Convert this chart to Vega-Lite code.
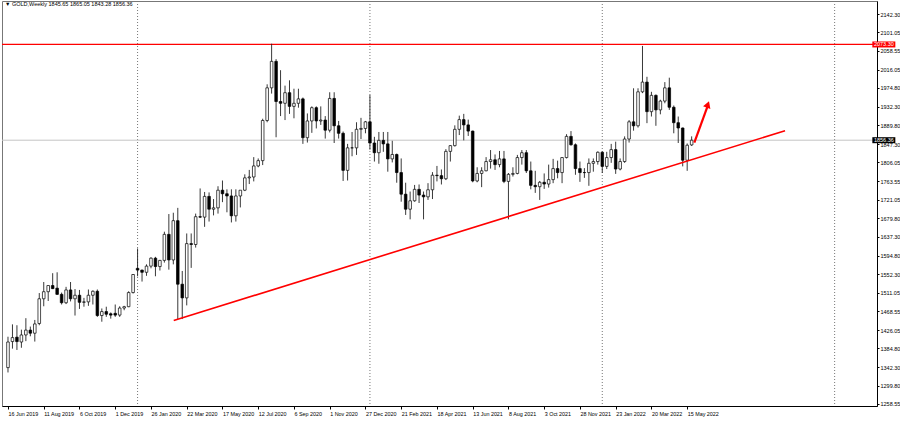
{
  "$schema": "https://vega.github.io/schema/vega-lite/v6.json",
  "width": 875,
  "height": 405,
  "autosize": {"type": "none"},
  "padding": {"left": 2, "top": 1, "right": 23, "bottom": 15},
  "background": "white",
  "config": {
    "view": {"stroke": "#777", "strokeWidth": 1},
    "axis": {"labelFont": "Liberation Sans", "labelColor": "#000", "domainColor": "#000", "tickColor": "#000", "grid": false},
    "axisX": {"format": "%-d %b %Y", "formatType": "utc", "labelAlign": "left", "labelBaseline": "top", "labelPadding": 2, "labelOffset": 0, "tickSize": 3, "labelFontSize": 5.4, "labelFlush": false, "labelOverlap": false, "labelBound": false},
    "axisY": {"format": ".2f", "tickSize": 2, "labelPadding": 1, "labelFontSize": 5.5, "labelOverlap": false, "labelBound": false, "labelBaseline": "middle"}
  },
  "title": {"text": "▼ GOLD,Weekly  1845.65 1865.05 1843.28 1856.36", "anchor": "start", "frame": "group", "offset": -7, "dx": 3, "fontSize": 5.5, "fontWeight": "normal", "font": "Liberation Sans", "color": "#000"},
  "datasets": {
    "candles": [
      {"d":"2019-06-16","o":1341,"h":1411,"l":1330,"c":1399},
      {"d":"2019-06-23","o":1400,"h":1439,"l":1384,"c":1409},
      {"d":"2019-06-30","o":1410,"h":1437,"l":1381,"c":1400},
      {"d":"2019-07-07","o":1399,"h":1427,"l":1386,"c":1415},
      {"d":"2019-07-14","o":1415,"h":1453,"l":1401,"c":1426},
      {"d":"2019-07-21","o":1426,"h":1434,"l":1412,"c":1419},
      {"d":"2019-07-28","o":1419,"h":1449,"l":1400,"c":1440},
      {"d":"2019-08-04","o":1441,"h":1510,"l":1437,"c":1497},
      {"d":"2019-08-11","o":1497,"h":1535,"l":1480,"c":1513},
      {"d":"2019-08-18","o":1513,"h":1527,"l":1492,"c":1527},
      {"d":"2019-08-25","o":1527,"h":1555,"l":1519,"c":1520},
      {"d":"2019-09-01","o":1521,"h":1557,"l":1506,"c":1507},
      {"d":"2019-09-08","o":1507,"h":1511,"l":1484,"c":1488},
      {"d":"2019-09-15","o":1488,"h":1524,"l":1485,"c":1517},
      {"d":"2019-09-22","o":1517,"h":1535,"l":1491,"c":1497},
      {"d":"2019-09-29","o":1497,"h":1519,"l":1459,"c":1505},
      {"d":"2019-10-06","o":1505,"h":1517,"l":1474,"c":1489},
      {"d":"2019-10-13","o":1489,"h":1499,"l":1479,"c":1490},
      {"d":"2019-10-20","o":1490,"h":1518,"l":1481,"c":1505},
      {"d":"2019-10-27","o":1505,"h":1516,"l":1484,"c":1514},
      {"d":"2019-11-03","o":1514,"h":1518,"l":1456,"c":1459},
      {"d":"2019-11-10","o":1459,"h":1475,"l":1445,"c":1468},
      {"d":"2019-11-17","o":1468,"h":1479,"l":1456,"c":1462},
      {"d":"2019-11-24","o":1463,"h":1466,"l":1452,"c":1460},
      {"d":"2019-12-01","o":1464,"h":1484,"l":1456,"c":1460},
      {"d":"2019-12-08","o":1460,"h":1480,"l":1456,"c":1476},
      {"d":"2019-12-15","o":1476,"h":1481,"l":1471,"c":1479},
      {"d":"2019-12-22","o":1479,"h":1514,"l":1478,"c":1511},
      {"d":"2019-12-29","o":1511,"h":1553,"l":1509,"c":1552},
      {"d":"2020-01-05","o":1566,"h":1611,"l":1548,"c":1562},
      {"d":"2020-01-12","o":1562,"h":1563,"l":1536,"c":1557},
      {"d":"2020-01-19","o":1557,"h":1575,"l":1549,"c":1571},
      {"d":"2020-01-26","o":1571,"h":1591,"l":1566,"c":1589},
      {"d":"2020-02-02","o":1589,"h":1592,"l":1548,"c":1570},
      {"d":"2020-02-09","o":1570,"h":1585,"l":1561,"c":1584},
      {"d":"2020-02-16","o":1584,"h":1649,"l":1579,"c":1643},
      {"d":"2020-02-23","o":1643,"h":1689,"l":1563,"c":1585},
      {"d":"2020-03-01","o":1585,"h":1692,"l":1575,"c":1674},
      {"d":"2020-03-08","o":1674,"h":1703,"l":1451,"c":1530},
      {"d":"2020-03-15","o":1530,"h":1560,"l":1451,"c":1499},
      {"d":"2020-03-22","o":1499,"h":1645,"l":1482,"c":1622},
      {"d":"2020-03-29","o":1622,"h":1645,"l":1567,"c":1620},
      {"d":"2020-04-05","o":1620,"h":1690,"l":1613,"c":1683},
      {"d":"2020-04-12","o":1683,"h":1747,"l":1680,"c":1682},
      {"d":"2020-04-19","o":1682,"h":1739,"l":1660,"c":1729},
      {"d":"2020-04-26","o":1729,"h":1738,"l":1672,"c":1700},
      {"d":"2020-05-03","o":1700,"h":1723,"l":1686,"c":1703},
      {"d":"2020-05-10","o":1703,"h":1752,"l":1690,"c":1743},
      {"d":"2020-05-17","o":1743,"h":1765,"l":1716,"c":1735},
      {"d":"2020-05-24","o":1735,"h":1745,"l":1693,"c":1730},
      {"d":"2020-05-31","o":1730,"h":1745,"l":1670,"c":1685},
      {"d":"2020-06-07","o":1685,"h":1745,"l":1672,"c":1730},
      {"d":"2020-06-14","o":1730,"h":1739,"l":1704,"c":1743},
      {"d":"2020-06-21","o":1743,"h":1779,"l":1741,"c":1771},
      {"d":"2020-06-28","o":1771,"h":1789,"l":1757,"c":1773},
      {"d":"2020-07-05","o":1773,"h":1818,"l":1763,"c":1798},
      {"d":"2020-07-12","o":1798,"h":1815,"l":1795,"c":1810},
      {"d":"2020-07-19","o":1810,"h":1905,"l":1800,"c":1901},
      {"d":"2020-07-26","o":1901,"h":1983,"l":1897,"c":1975},
      {"d":"2020-08-02","o":1975,"h":2075,"l":1962,"c":2035},
      {"d":"2020-08-09","o":2035,"h":2040,"l":1863,"c":1944},
      {"d":"2020-08-16","o":1944,"h":2015,"l":1911,"c":1940},
      {"d":"2020-08-23","o":1940,"h":1980,"l":1902,"c":1964},
      {"d":"2020-08-30","o":1964,"h":1992,"l":1916,"c":1933},
      {"d":"2020-09-06","o":1933,"h":1973,"l":1906,"c":1940},
      {"d":"2020-09-13","o":1940,"h":1973,"l":1930,"c":1950},
      {"d":"2020-09-20","o":1950,"h":1953,"l":1848,"c":1862},
      {"d":"2020-09-27","o":1862,"h":1917,"l":1851,"c":1900},
      {"d":"2020-10-04","o":1900,"h":1933,"l":1873,"c":1930},
      {"d":"2020-10-11","o":1930,"h":1933,"l":1883,"c":1900},
      {"d":"2020-10-18","o":1900,"h":1933,"l":1891,"c":1902},
      {"d":"2020-10-25","o":1902,"h":1911,"l":1860,"c":1879},
      {"d":"2020-11-01","o":1879,"h":1965,"l":1874,"c":1951},
      {"d":"2020-11-08","o":1951,"h":1965,"l":1850,"c":1889},
      {"d":"2020-11-15","o":1889,"h":1900,"l":1860,"c":1872},
      {"d":"2020-11-22","o":1872,"h":1876,"l":1764,"c":1788},
      {"d":"2020-11-29","o":1788,"h":1848,"l":1765,"c":1839},
      {"d":"2020-12-06","o":1839,"h":1875,"l":1820,"c":1839},
      {"d":"2020-12-13","o":1839,"h":1897,"l":1823,"c":1881},
      {"d":"2020-12-20","o":1881,"h":1907,"l":1859,"c":1883},
      {"d":"2020-12-27","o":1883,"h":1900,"l":1872,"c":1898},
      {"d":"2021-01-03","o":1898,"h":1959,"l":1835,"c":1850},
      {"d":"2021-01-10","o":1850,"h":1864,"l":1808,"c":1828},
      {"d":"2021-01-17","o":1828,"h":1875,"l":1803,"c":1856},
      {"d":"2021-01-24","o":1856,"h":1875,"l":1830,"c":1848},
      {"d":"2021-01-31","o":1848,"h":1875,"l":1785,"c":1814},
      {"d":"2021-02-07","o":1814,"h":1855,"l":1806,"c":1824},
      {"d":"2021-02-14","o":1824,"h":1826,"l":1760,"c":1783},
      {"d":"2021-02-21","o":1783,"h":1815,"l":1717,"c":1734},
      {"d":"2021-02-28","o":1734,"h":1760,"l":1687,"c":1700},
      {"d":"2021-03-07","o":1700,"h":1740,"l":1677,"c":1719},
      {"d":"2021-03-14","o":1719,"h":1755,"l":1717,"c":1745},
      {"d":"2021-03-21","o":1745,"h":1756,"l":1714,"c":1732},
      {"d":"2021-03-28","o":1732,"h":1740,"l":1677,"c":1728},
      {"d":"2021-04-04","o":1728,"h":1759,"l":1721,"c":1744},
      {"d":"2021-04-11","o":1744,"h":1784,"l":1723,"c":1777},
      {"d":"2021-04-18","o":1777,"h":1798,"l":1763,"c":1776},
      {"d":"2021-04-25","o":1776,"h":1790,"l":1756,"c":1769},
      {"d":"2021-05-02","o":1769,"h":1836,"l":1766,"c":1831},
      {"d":"2021-05-09","o":1831,"h":1845,"l":1808,"c":1844},
      {"d":"2021-05-16","o":1844,"h":1890,"l":1842,"c":1881},
      {"d":"2021-05-23","o":1881,"h":1912,"l":1868,"c":1903},
      {"d":"2021-05-30","o":1903,"h":1916,"l":1856,"c":1891},
      {"d":"2021-06-06","o":1891,"h":1903,"l":1866,"c":1877},
      {"d":"2021-06-13","o":1877,"h":1878,"l":1761,"c":1764},
      {"d":"2021-06-20","o":1764,"h":1795,"l":1761,"c":1781},
      {"d":"2021-06-27","o":1781,"h":1795,"l":1750,"c":1787},
      {"d":"2021-07-04","o":1787,"h":1818,"l":1786,"c":1808},
      {"d":"2021-07-11","o":1808,"h":1834,"l":1792,"c":1812},
      {"d":"2021-07-18","o":1812,"h":1824,"l":1789,"c":1801},
      {"d":"2021-07-25","o":1801,"h":1832,"l":1795,"c":1814},
      {"d":"2021-08-01","o":1814,"h":1832,"l":1759,"c":1763},
      {"d":"2021-08-08","o":1763,"h":1782,"l":1677,"c":1779},
      {"d":"2021-08-15","o":1779,"h":1795,"l":1774,"c":1781},
      {"d":"2021-08-22","o":1781,"h":1823,"l":1779,"c":1817},
      {"d":"2021-08-29","o":1817,"h":1834,"l":1801,"c":1828},
      {"d":"2021-09-05","o":1828,"h":1834,"l":1782,"c":1787},
      {"d":"2021-09-12","o":1787,"h":1808,"l":1745,"c":1754},
      {"d":"2021-09-19","o":1754,"h":1787,"l":1737,"c":1751},
      {"d":"2021-09-26","o":1751,"h":1764,"l":1721,"c":1761},
      {"d":"2021-10-03","o":1761,"h":1781,"l":1746,"c":1757},
      {"d":"2021-10-10","o":1757,"h":1801,"l":1749,"c":1767},
      {"d":"2021-10-17","o":1767,"h":1814,"l":1759,"c":1792},
      {"d":"2021-10-24","o":1792,"h":1810,"l":1770,"c":1783},
      {"d":"2021-10-31","o":1783,"h":1818,"l":1759,"c":1817},
      {"d":"2021-11-07","o":1817,"h":1870,"l":1815,"c":1865},
      {"d":"2021-11-14","o":1865,"h":1877,"l":1844,"c":1846},
      {"d":"2021-11-21","o":1846,"h":1849,"l":1778,"c":1792},
      {"d":"2021-11-28","o":1792,"h":1808,"l":1762,"c":1783},
      {"d":"2021-12-05","o":1783,"h":1793,"l":1771,"c":1783},
      {"d":"2021-12-12","o":1783,"h":1815,"l":1753,"c":1804},
      {"d":"2021-12-19","o":1804,"h":1815,"l":1785,"c":1808},
      {"d":"2021-12-26","o":1808,"h":1831,"l":1801,"c":1829},
      {"d":"2022-01-02","o":1829,"h":1831,"l":1782,"c":1797},
      {"d":"2022-01-09","o":1797,"h":1830,"l":1791,"c":1817},
      {"d":"2022-01-16","o":1817,"h":1848,"l":1805,"c":1835},
      {"d":"2022-01-23","o":1835,"h":1853,"l":1780,"c":1791},
      {"d":"2022-01-30","o":1791,"h":1815,"l":1788,"c":1808},
      {"d":"2022-02-06","o":1808,"h":1865,"l":1805,"c":1859},
      {"d":"2022-02-13","o":1859,"h":1902,"l":1851,"c":1898},
      {"d":"2022-02-20","o":1898,"h":1974,"l":1878,"c":1889},
      {"d":"2022-02-27","o":1889,"h":1974,"l":1885,"c":1966},
      {"d":"2022-03-06","o":1966,"h":2070,"l":1963,"c":1988},
      {"d":"2022-03-13","o":1988,"h":2000,"l":1895,"c":1921},
      {"d":"2022-03-20","o":1921,"h":1966,"l":1910,"c":1958},
      {"d":"2022-03-27","o":1958,"h":1960,"l":1889,"c":1925},
      {"d":"2022-04-03","o":1925,"h":1948,"l":1915,"c":1945},
      {"d":"2022-04-10","o":1945,"h":1988,"l":1940,"c":1975},
      {"d":"2022-04-17","o":1975,"h":1998,"l":1925,"c":1931},
      {"d":"2022-04-24","o":1931,"h":1935,"l":1872,"c":1896},
      {"d":"2022-05-01","o":1896,"h":1910,"l":1850,"c":1884},
      {"d":"2022-05-08","o":1884,"h":1885,"l":1797,"c":1811},
      {"d":"2022-05-15","o":1811,"h":1849,"l":1787,"c":1845},
      {"d":"2022-05-22","o":1845.65,"h":1865.05,"l":1843.28,"c":1856.36}
    ],
    "yearGrid": [{"d":"2020-01-05"},{"d":"2021-01-03"},{"d":"2022-01-02"},{"d":"2023-01-01"}],
    "levels": [{"p": 1856.36}],
    "resistance": [{"p": 2073.30}],
    "trend": [{"d":"2020-03-01T15:00:00Z","p":1447.8},{"d":"2022-10-15T07:00:00Z","p":1877.9}],
    "arrow": [{"d":"2022-05-26T05:00:00Z","p":1850.7},{"d":"2022-06-15T17:00:00Z","p":1932.7}],
    "arrowHead": [{"d":"2022-06-16T10:00:00Z","p":1937.2}],
    "tags": [{"d":"2023-03-19T02:00:00Z","p":2073.30,"label":"2073.30"},{"d":"2023-03-19T02:00:00Z","p":1856.36,"label":"1856.36"}]
  },
  "layer": [
    {
      "data": {"name": "yearGrid"},
      "mark": {"type": "rule", "color": "#777", "strokeDash": [1, 2], "strokeWidth": 1},
      "encoding": {
        "x": {"field": "d", "type": "temporal", "title": null, "scale": {"type": "utc", "domain": [1560509392320, 1677589056000]},
          "axis": {"values": [{"year": 2019, "month": 6, "date": 16, "utc": true}, {"year": 2019, "month": 8, "date": 11, "utc": true}, {"year": 2019, "month": 10, "date": 6, "utc": true}, {"year": 2019, "month": 12, "date": 1, "utc": true}, {"year": 2020, "month": 1, "date": 26, "utc": true}, {"year": 2020, "month": 3, "date": 22, "utc": true}, {"year": 2020, "month": 5, "date": 17, "utc": true}, {"year": 2020, "month": 7, "date": 12, "utc": true}, {"year": 2020, "month": 9, "date": 6, "utc": true}, {"year": 2020, "month": 11, "date": 1, "utc": true}, {"year": 2020, "month": 12, "date": 27, "utc": true}, {"year": 2021, "month": 2, "date": 21, "utc": true}, {"year": 2021, "month": 4, "date": 18, "utc": true}, {"year": 2021, "month": 6, "date": 13, "utc": true}, {"year": 2021, "month": 8, "date": 8, "utc": true}, {"year": 2021, "month": 10, "date": 3, "utc": true}, {"year": 2021, "month": 11, "date": 28, "utc": true}, {"year": 2022, "month": 1, "date": 23, "utc": true}, {"year": 2022, "month": 3, "date": 20, "utc": true}, {"year": 2022, "month": 5, "date": 15, "utc": true}]}}
      }
    },
    {
      "data": {"name": "levels"},
      "mark": {"type": "rule", "color": "#c4c4c4", "strokeWidth": 1},
      "encoding": {"y": {"field": "p", "type": "quantitative", "title": null, "scale": {"domain": [1254, 2171.8], "nice": false, "zero": false},
        "axis": {"orient": "right", "values": [2142.30, 2101.05, 2058.55, 2016.05, 1974.80, 1932.30, 1889.80, 1847.30, 1806.05, 1763.55, 1721.05, 1679.80, 1637.30, 1594.80, 1552.30, 1511.05, 1468.55, 1426.05, 1384.80, 1342.30, 1299.80, 1258.55], "labelOverlap": false}}}
    },
    {
      "data": {"name": "resistance"},
      "mark": {"type": "rule", "color": "#ff0000", "strokeWidth": 1.3},
      "encoding": {"y": {"field": "p", "type": "quantitative", "title": null, "scale": {"domain": [1254, 2171.8], "nice": false, "zero": false},
        "axis": {"orient": "right", "values": [2142.30, 2101.05, 2058.55, 2016.05, 1974.80, 1932.30, 1889.80, 1847.30, 1806.05, 1763.55, 1721.05, 1679.80, 1637.30, 1594.80, 1552.30, 1511.05, 1468.55, 1426.05, 1384.80, 1342.30, 1299.80, 1258.55], "labelOverlap": false}}}
    },
    {
      "data": {"name": "candles"},
      "mark": {"type": "rule", "color": "#222", "strokeWidth": 0.9},
      "encoding": {
        "x": {"field": "d", "type": "temporal", "title": null, "scale": {"type": "utc", "domain": [1560509392320, 1677589056000]},
          "axis": {"values": [{"year": 2019, "month": 6, "date": 16, "utc": true}, {"year": 2019, "month": 8, "date": 11, "utc": true}, {"year": 2019, "month": 10, "date": 6, "utc": true}, {"year": 2019, "month": 12, "date": 1, "utc": true}, {"year": 2020, "month": 1, "date": 26, "utc": true}, {"year": 2020, "month": 3, "date": 22, "utc": true}, {"year": 2020, "month": 5, "date": 17, "utc": true}, {"year": 2020, "month": 7, "date": 12, "utc": true}, {"year": 2020, "month": 9, "date": 6, "utc": true}, {"year": 2020, "month": 11, "date": 1, "utc": true}, {"year": 2020, "month": 12, "date": 27, "utc": true}, {"year": 2021, "month": 2, "date": 21, "utc": true}, {"year": 2021, "month": 4, "date": 18, "utc": true}, {"year": 2021, "month": 6, "date": 13, "utc": true}, {"year": 2021, "month": 8, "date": 8, "utc": true}, {"year": 2021, "month": 10, "date": 3, "utc": true}, {"year": 2021, "month": 11, "date": 28, "utc": true}, {"year": 2022, "month": 1, "date": 23, "utc": true}, {"year": 2022, "month": 3, "date": 20, "utc": true}, {"year": 2022, "month": 5, "date": 15, "utc": true}]}},
        "y": {"field": "l", "type": "quantitative", "title": null, "scale": {"domain": [1254, 2171.8], "nice": false, "zero": false},
          "axis": {"orient": "right", "values": [2142.30, 2101.05, 2058.55, 2016.05, 1974.80, 1932.30, 1889.80, 1847.30, 1806.05, 1763.55, 1721.05, 1679.80, 1637.30, 1594.80, 1552.30, 1511.05, 1468.55, 1426.05, 1384.80, 1342.30, 1299.80, 1258.55], "labelOverlap": false}},
        "y2": {"field": "h"}
      }
    },
    {
      "data": {"name": "candles"},
      "mark": {"type": "bar", "width": 2.6, "stroke": "#000", "strokeWidth": 0.7},
      "encoding": {
        "x": {"field": "d", "type": "temporal", "title": null, "scale": {"type": "utc", "domain": [1560509392320, 1677589056000]},
          "axis": {"values": [{"year": 2019, "month": 6, "date": 16, "utc": true}, {"year": 2019, "month": 8, "date": 11, "utc": true}, {"year": 2019, "month": 10, "date": 6, "utc": true}, {"year": 2019, "month": 12, "date": 1, "utc": true}, {"year": 2020, "month": 1, "date": 26, "utc": true}, {"year": 2020, "month": 3, "date": 22, "utc": true}, {"year": 2020, "month": 5, "date": 17, "utc": true}, {"year": 2020, "month": 7, "date": 12, "utc": true}, {"year": 2020, "month": 9, "date": 6, "utc": true}, {"year": 2020, "month": 11, "date": 1, "utc": true}, {"year": 2020, "month": 12, "date": 27, "utc": true}, {"year": 2021, "month": 2, "date": 21, "utc": true}, {"year": 2021, "month": 4, "date": 18, "utc": true}, {"year": 2021, "month": 6, "date": 13, "utc": true}, {"year": 2021, "month": 8, "date": 8, "utc": true}, {"year": 2021, "month": 10, "date": 3, "utc": true}, {"year": 2021, "month": 11, "date": 28, "utc": true}, {"year": 2022, "month": 1, "date": 23, "utc": true}, {"year": 2022, "month": 3, "date": 20, "utc": true}, {"year": 2022, "month": 5, "date": 15, "utc": true}]}},
        "y": {"field": "o", "type": "quantitative", "title": null, "scale": {"domain": [1254, 2171.8], "nice": false, "zero": false},
          "axis": {"orient": "right", "values": [2142.30, 2101.05, 2058.55, 2016.05, 1974.80, 1932.30, 1889.80, 1847.30, 1806.05, 1763.55, 1721.05, 1679.80, 1637.30, 1594.80, 1552.30, 1511.05, 1468.55, 1426.05, 1384.80, 1342.30, 1299.80, 1258.55], "labelOverlap": false}},
        "y2": {"field": "c"},
        "fill": {"condition": {"test": "datum.c >= datum.o", "value": "#ffffff"}, "value": "#000000"}
      }
    },
    {
      "data": {"name": "trend"},
      "mark": {"type": "line", "color": "#ff0000", "strokeWidth": 1.6},
      "encoding": {
        "x": {"field": "d", "type": "temporal", "title": null, "scale": {"type": "utc", "domain": [1560509392320, 1677589056000]},
          "axis": {"values": [{"year": 2019, "month": 6, "date": 16, "utc": true}, {"year": 2019, "month": 8, "date": 11, "utc": true}, {"year": 2019, "month": 10, "date": 6, "utc": true}, {"year": 2019, "month": 12, "date": 1, "utc": true}, {"year": 2020, "month": 1, "date": 26, "utc": true}, {"year": 2020, "month": 3, "date": 22, "utc": true}, {"year": 2020, "month": 5, "date": 17, "utc": true}, {"year": 2020, "month": 7, "date": 12, "utc": true}, {"year": 2020, "month": 9, "date": 6, "utc": true}, {"year": 2020, "month": 11, "date": 1, "utc": true}, {"year": 2020, "month": 12, "date": 27, "utc": true}, {"year": 2021, "month": 2, "date": 21, "utc": true}, {"year": 2021, "month": 4, "date": 18, "utc": true}, {"year": 2021, "month": 6, "date": 13, "utc": true}, {"year": 2021, "month": 8, "date": 8, "utc": true}, {"year": 2021, "month": 10, "date": 3, "utc": true}, {"year": 2021, "month": 11, "date": 28, "utc": true}, {"year": 2022, "month": 1, "date": 23, "utc": true}, {"year": 2022, "month": 3, "date": 20, "utc": true}, {"year": 2022, "month": 5, "date": 15, "utc": true}]}},
        "y": {"field": "p", "type": "quantitative", "title": null, "scale": {"domain": [1254, 2171.8], "nice": false, "zero": false},
          "axis": {"orient": "right", "values": [2142.30, 2101.05, 2058.55, 2016.05, 1974.80, 1932.30, 1889.80, 1847.30, 1806.05, 1763.55, 1721.05, 1679.80, 1637.30, 1594.80, 1552.30, 1511.05, 1468.55, 1426.05, 1384.80, 1342.30, 1299.80, 1258.55], "labelOverlap": false}}
      }
    },
    {
      "data": {"name": "arrow"},
      "mark": {"type": "line", "color": "#ff0000", "strokeWidth": 2.2},
      "encoding": {
        "x": {"field": "d", "type": "temporal", "title": null, "scale": {"type": "utc", "domain": [1560509392320, 1677589056000]},
          "axis": {"values": [{"year": 2019, "month": 6, "date": 16, "utc": true}, {"year": 2019, "month": 8, "date": 11, "utc": true}, {"year": 2019, "month": 10, "date": 6, "utc": true}, {"year": 2019, "month": 12, "date": 1, "utc": true}, {"year": 2020, "month": 1, "date": 26, "utc": true}, {"year": 2020, "month": 3, "date": 22, "utc": true}, {"year": 2020, "month": 5, "date": 17, "utc": true}, {"year": 2020, "month": 7, "date": 12, "utc": true}, {"year": 2020, "month": 9, "date": 6, "utc": true}, {"year": 2020, "month": 11, "date": 1, "utc": true}, {"year": 2020, "month": 12, "date": 27, "utc": true}, {"year": 2021, "month": 2, "date": 21, "utc": true}, {"year": 2021, "month": 4, "date": 18, "utc": true}, {"year": 2021, "month": 6, "date": 13, "utc": true}, {"year": 2021, "month": 8, "date": 8, "utc": true}, {"year": 2021, "month": 10, "date": 3, "utc": true}, {"year": 2021, "month": 11, "date": 28, "utc": true}, {"year": 2022, "month": 1, "date": 23, "utc": true}, {"year": 2022, "month": 3, "date": 20, "utc": true}, {"year": 2022, "month": 5, "date": 15, "utc": true}]}},
        "y": {"field": "p", "type": "quantitative", "title": null, "scale": {"domain": [1254, 2171.8], "nice": false, "zero": false},
          "axis": {"orient": "right", "values": [2142.30, 2101.05, 2058.55, 2016.05, 1974.80, 1932.30, 1889.80, 1847.30, 1806.05, 1763.55, 1721.05, 1679.80, 1637.30, 1594.80, 1552.30, 1511.05, 1468.55, 1426.05, 1384.80, 1342.30, 1299.80, 1258.55], "labelOverlap": false}}
      }
    },
    {
      "data": {"name": "arrowHead"},
      "mark": {"type": "point", "shape": "triangle-up", "angle": 20, "size": 60, "filled": true, "color": "#ff0000", "opacity": 1},
      "encoding": {
        "x": {"field": "d", "type": "temporal", "title": null, "scale": {"type": "utc", "domain": [1560509392320, 1677589056000]},
          "axis": {"values": [{"year": 2019, "month": 6, "date": 16, "utc": true}, {"year": 2019, "month": 8, "date": 11, "utc": true}, {"year": 2019, "month": 10, "date": 6, "utc": true}, {"year": 2019, "month": 12, "date": 1, "utc": true}, {"year": 2020, "month": 1, "date": 26, "utc": true}, {"year": 2020, "month": 3, "date": 22, "utc": true}, {"year": 2020, "month": 5, "date": 17, "utc": true}, {"year": 2020, "month": 7, "date": 12, "utc": true}, {"year": 2020, "month": 9, "date": 6, "utc": true}, {"year": 2020, "month": 11, "date": 1, "utc": true}, {"year": 2020, "month": 12, "date": 27, "utc": true}, {"year": 2021, "month": 2, "date": 21, "utc": true}, {"year": 2021, "month": 4, "date": 18, "utc": true}, {"year": 2021, "month": 6, "date": 13, "utc": true}, {"year": 2021, "month": 8, "date": 8, "utc": true}, {"year": 2021, "month": 10, "date": 3, "utc": true}, {"year": 2021, "month": 11, "date": 28, "utc": true}, {"year": 2022, "month": 1, "date": 23, "utc": true}, {"year": 2022, "month": 3, "date": 20, "utc": true}, {"year": 2022, "month": 5, "date": 15, "utc": true}]}},
        "y": {"field": "p", "type": "quantitative", "title": null, "scale": {"domain": [1254, 2171.8], "nice": false, "zero": false},
          "axis": {"orient": "right", "values": [2142.30, 2101.05, 2058.55, 2016.05, 1974.80, 1932.30, 1889.80, 1847.30, 1806.05, 1763.55, 1721.05, 1679.80, 1637.30, 1594.80, 1552.30, 1511.05, 1468.55, 1426.05, 1384.80, 1342.30, 1299.80, 1258.55], "labelOverlap": false}}
      }
    },
    {
      "data": {"name": "tags"},
      "mark": {"type": "tick", "orient": "horizontal", "size": 23, "thickness": 6, "opacity": 1},
      "encoding": {
        "x": {"field": "d", "type": "temporal", "title": null, "scale": {"type": "utc", "domain": [1560509392320, 1677589056000]},
          "axis": {"values": [{"year": 2019, "month": 6, "date": 16, "utc": true}, {"year": 2019, "month": 8, "date": 11, "utc": true}, {"year": 2019, "month": 10, "date": 6, "utc": true}, {"year": 2019, "month": 12, "date": 1, "utc": true}, {"year": 2020, "month": 1, "date": 26, "utc": true}, {"year": 2020, "month": 3, "date": 22, "utc": true}, {"year": 2020, "month": 5, "date": 17, "utc": true}, {"year": 2020, "month": 7, "date": 12, "utc": true}, {"year": 2020, "month": 9, "date": 6, "utc": true}, {"year": 2020, "month": 11, "date": 1, "utc": true}, {"year": 2020, "month": 12, "date": 27, "utc": true}, {"year": 2021, "month": 2, "date": 21, "utc": true}, {"year": 2021, "month": 4, "date": 18, "utc": true}, {"year": 2021, "month": 6, "date": 13, "utc": true}, {"year": 2021, "month": 8, "date": 8, "utc": true}, {"year": 2021, "month": 10, "date": 3, "utc": true}, {"year": 2021, "month": 11, "date": 28, "utc": true}, {"year": 2022, "month": 1, "date": 23, "utc": true}, {"year": 2022, "month": 3, "date": 20, "utc": true}, {"year": 2022, "month": 5, "date": 15, "utc": true}]}},
        "y": {"field": "p", "type": "quantitative", "title": null, "scale": {"domain": [1254, 2171.8], "nice": false, "zero": false},
          "axis": {"orient": "right", "values": [2142.30, 2101.05, 2058.55, 2016.05, 1974.80, 1932.30, 1889.80, 1847.30, 1806.05, 1763.55, 1721.05, 1679.80, 1637.30, 1594.80, 1552.30, 1511.05, 1468.55, 1426.05, 1384.80, 1342.30, 1299.80, 1258.55], "labelOverlap": false}},
        "color": {"field": "label", "type": "nominal", "scale": {"domain": ["2073.30", "1856.36"], "range": ["#ff0000", "#000000"]}, "legend": null}
      }
    },
    {
      "data": {"name": "tags"},
      "mark": {"type": "text", "color": "#ffffff", "fontSize": 5.5, "font": "Liberation Sans", "align": "center", "baseline": "middle"},
      "encoding": {
        "x": {"field": "d", "type": "temporal", "title": null, "scale": {"type": "utc", "domain": [1560509392320, 1677589056000]},
          "axis": {"values": [{"year": 2019, "month": 6, "date": 16, "utc": true}, {"year": 2019, "month": 8, "date": 11, "utc": true}, {"year": 2019, "month": 10, "date": 6, "utc": true}, {"year": 2019, "month": 12, "date": 1, "utc": true}, {"year": 2020, "month": 1, "date": 26, "utc": true}, {"year": 2020, "month": 3, "date": 22, "utc": true}, {"year": 2020, "month": 5, "date": 17, "utc": true}, {"year": 2020, "month": 7, "date": 12, "utc": true}, {"year": 2020, "month": 9, "date": 6, "utc": true}, {"year": 2020, "month": 11, "date": 1, "utc": true}, {"year": 2020, "month": 12, "date": 27, "utc": true}, {"year": 2021, "month": 2, "date": 21, "utc": true}, {"year": 2021, "month": 4, "date": 18, "utc": true}, {"year": 2021, "month": 6, "date": 13, "utc": true}, {"year": 2021, "month": 8, "date": 8, "utc": true}, {"year": 2021, "month": 10, "date": 3, "utc": true}, {"year": 2021, "month": 11, "date": 28, "utc": true}, {"year": 2022, "month": 1, "date": 23, "utc": true}, {"year": 2022, "month": 3, "date": 20, "utc": true}, {"year": 2022, "month": 5, "date": 15, "utc": true}]}},
        "y": {"field": "p", "type": "quantitative", "title": null, "scale": {"domain": [1254, 2171.8], "nice": false, "zero": false},
          "axis": {"orient": "right", "values": [2142.30, 2101.05, 2058.55, 2016.05, 1974.80, 1932.30, 1889.80, 1847.30, 1806.05, 1763.55, 1721.05, 1679.80, 1637.30, 1594.80, 1552.30, 1511.05, 1468.55, 1426.05, 1384.80, 1342.30, 1299.80, 1258.55], "labelOverlap": false}},
        "text": {"field": "label"}
      }
    }
  ]
}
